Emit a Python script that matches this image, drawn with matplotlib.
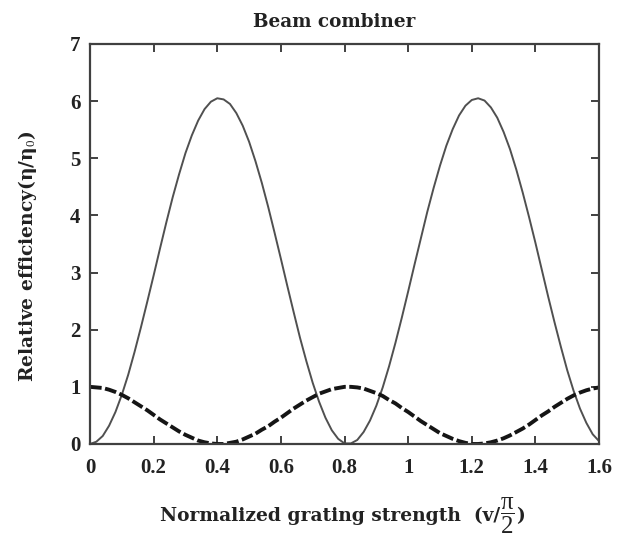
import numpy as np
import matplotlib
matplotlib.use("Agg")
import matplotlib.pyplot as plt

# Normalized grating strength (v / (pi/2))
x = [round(0.02 * i, 2) for i in range(81)]

# Relative efficiency (solid curve)
solid = [0.00, 0.04, 0.14, 0.32, 0.56, 0.86, 1.21, 1.61, 2.04, 2.49,
         2.95, 3.42, 3.88, 4.32, 4.72, 5.09, 5.40, 5.66, 5.86, 5.99,
         6.05, 6.03, 5.95, 5.79, 5.57, 5.29, 4.95, 4.57, 4.15, 3.70,
         3.24, 2.77, 2.31, 1.86, 1.45, 1.07, 0.74, 0.46, 0.24, 0.09,
         0.01, 0.01, 0.07, 0.21, 0.41, 0.67, 0.99, 1.36, 1.77, 2.21,
         2.67, 3.14, 3.60, 4.06, 4.48, 4.87, 5.22, 5.51, 5.75, 5.92,
         6.02, 6.05, 6.01, 5.89, 5.71, 5.46, 5.16, 4.80, 4.40, 3.97,
         3.52, 3.05, 2.58, 2.13, 1.70, 1.29, 0.93, 0.62, 0.37, 0.17,
         0.05]

# Dashed curve
dashed = [1.00, 0.99, 0.98, 0.95, 0.91, 0.86, 0.80, 0.73, 0.66, 0.59,
          0.51, 0.43, 0.36, 0.29, 0.22, 0.16, 0.11, 0.06, 0.03, 0.01,
          0.00, 0.00, 0.02, 0.04, 0.08, 0.13, 0.18, 0.25, 0.31, 0.39,
          0.46, 0.54, 0.62, 0.69, 0.76, 0.82, 0.88, 0.92, 0.96, 0.98,
          1.00, 1.00, 0.99, 0.97, 0.93, 0.89, 0.84, 0.77, 0.71, 0.63,
          0.56, 0.48, 0.40, 0.33, 0.26, 0.19, 0.14, 0.09, 0.05, 0.02,
          0.00, 0.00, 0.01, 0.03, 0.06, 0.10, 0.15, 0.21, 0.27, 0.34,
          0.42, 0.50, 0.57, 0.65, 0.72, 0.79, 0.85, 0.90, 0.94, 0.97,
          0.99]

xticks = [0, 0.2, 0.4, 0.6, 0.8, 1.0, 1.2, 1.4, 1.6]
xticklabels = ["0", "0.2", "0.4", "0.6", "0.8", "1", "1.2", "1.4", "1.6"]
yticks = [0, 1, 2, 3, 4, 5, 6, 7]

plt.rcParams['font.family'] = ['Liberation Serif', 'DejaVu Serif']
plt.rcParams['mathtext.fontset'] = 'custom'
plt.rcParams['mathtext.rm'] = 'Liberation Serif'
plt.rcParams['mathtext.it'] = 'Liberation Serif'
plt.rcParams['mathtext.bf'] = 'Liberation Serif:bold'

fig = plt.figure(figsize=(6.25, 5.37), dpi=100)
ax = fig.add_axes([0.144, 0.1732, 0.8145, 0.7449])

ax.plot(x, solid, color='#505050', lw=1.4)
ax.plot(x, dashed, color='#151515', lw=2.8, dashes=(3.0, 0.9))

ax.set_xlim(0, 1.6)
ax.set_ylim(0, 7)
ax.set_xticks(xticks)
ax.set_xticklabels(xticklabels)
ax.set_yticks(yticks)

for s in ax.spines.values():
    s.set_linewidth(1.6)
    s.set_color('#404040')

ax.tick_params(direction='in', top=True, right=True, length=6, width=1.4,
               color='#404040', labelsize=15)
ax.tick_params(axis='x', pad=10)
ax.tick_params(axis='y', pad=7)
for lab in ax.get_xticklabels() + ax.get_yticklabels():
    lab.set_fontweight('bold')
    lab.set_color('#222222')

lab_font = dict(family=['DejaVu Serif'], fontweight='bold', color='#222222')
ax.set_title("Beam combiner", fontsize=13.2, pad=12, x=0.479, **lab_font)

# x label built from pieces: text, stacked fraction, closing parenthesis
t1 = fig.text(160 / 625, (537 - 521) / 537, "Normalized grating strength  (v/",
              fontsize=13.4, ha='left', va='baseline', **lab_font)
t2 = ax.annotate(r"$\dfrac{\mathrm{π}}{2}$", xy=(1.0, 0.5), xycoords=t1,
                 xytext=(0, 0.5), textcoords='offset points',
                 fontsize=18, ha='left', va='center', color='#222222',
                 annotation_clip=False)
t3 = ax.annotate(")", xy=(1.0, 0.0), xycoords=(t2, t1),
                 xytext=(1, 0), textcoords='offset points',
                 fontsize=13.4, ha='left', va='bottom',
                 annotation_clip=False, **lab_font)

ax.set_ylabel(r"Relative efficiency(η/η$_0$)", fontsize=13.4, **lab_font)
ax.yaxis.set_label_coords(-0.100, 0.47)

fig.savefig("out.png", dpi=100, facecolor='white')
